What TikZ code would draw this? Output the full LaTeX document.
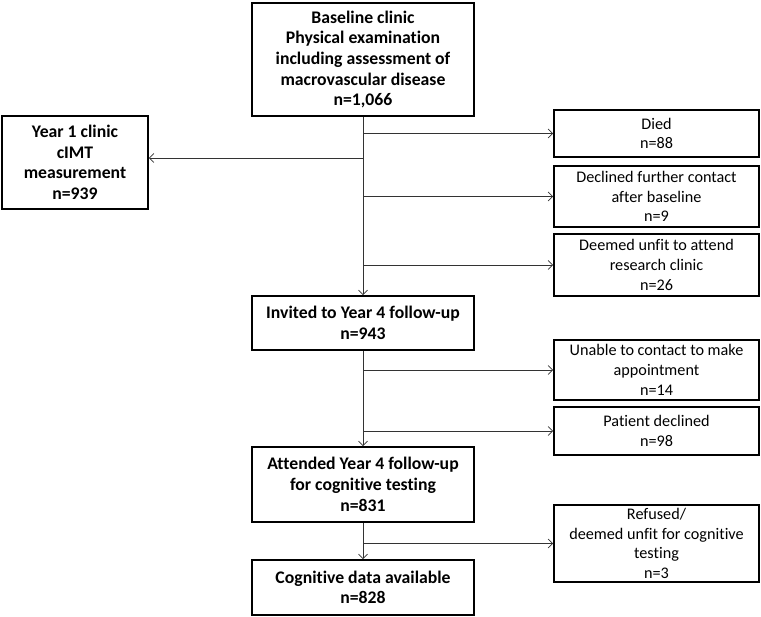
\documentclass[tikz,border=0pt]{standalone}
\usepackage{fontspec}
\setmainfont[Ligatures=NoCommon]{Carlito}
\usetikzlibrary{positioning,arrows.meta}
\tikzset{mainbox/.style={draw=black,line width=1.6pt,align=center,inner sep=1pt,
    minimum width=222pt,font=\bfseries\fontsize{17.7}{20.7}\selectfont},
  sidebox/.style={draw=black,line width=1.6pt,align=center,inner sep=1pt,
    minimum width=205pt,font=\fontsize{16.2}{19.8}\selectfont},
  flow/.style={-{Straight Barb[length=4.5pt,width=9pt]},line width=0.7pt,draw=black!80}}

\begin{document}
\begin{tikzpicture}[x=1pt,y=-1pt]
\useasboundingbox (0,0) rectangle (761,617);
% main column
\node[mainbox,minimum height=113pt] (base) at (363,59.5) {Baseline clinic\\Physical examination\\including assessment of\\macrovascular disease\\n=1,066};
\node[mainbox,minimum height=54pt] (invited) at (363,323) {Invited to Year 4 follow-up\\n=943};
\node[mainbox,minimum height=75pt] (attended) at (363,484.5) {Attended Year 4 follow-up\\for cognitive testing\\n=831};
\node[mainbox,minimum height=55pt] (cogn) at (363,587.5) {Cognitive data available\\n=828};
\node[mainbox,minimum width=146pt,minimum height=93pt] (yone) at (75,162.5) {Year 1 clinic\\cIMT\\measurement\\n=939};
% exclusions
\node[sidebox,minimum height=47pt] (died) at (656.5,133.5) {Died\\n=88};
\node[sidebox,minimum height=61pt] (declined) at (656.5,196.5) {Declined further contact\\after baseline\\n=9};
\node[sidebox,minimum height=62pt] (unfit) at (656.5,265) {Deemed unfit to attend\\research clinic\\n=26};
\node[sidebox,minimum height=60pt] (unable) at (656.5,370) {Unable to contact to make\\appointment\\n=14};
\node[sidebox,minimum height=48pt] (patdecl) at (656.5,431) {Patient declined\\n=98};
\node[sidebox,minimum height=77pt] (refused) at (656.5,543.5) {Refused/\\deemed unfit for cognitive\\testing\\n=3};
% connectors
\coordinate (yonejoin) at (363,158);
\draw[flow] (base) -- (invited);
\draw[flow] (invited) -- (attended);
\draw[flow] (attended) -- (cogn);
\draw[flow] (yonejoin) -- (yonejoin -| yone.east);
\draw[flow] (died.west -| base) -- (died.west);
\draw[flow] (declined.west -| base) -- (declined.west);
\draw[flow] (unfit.west -| base) -- (unfit.west);
\draw[flow] (unable.west -| base) -- (unable.west);
\draw[flow] (patdecl.west -| base) -- (patdecl.west);
\draw[flow] (refused.west -| base) -- (refused.west);
\end{tikzpicture}
\end{document}
